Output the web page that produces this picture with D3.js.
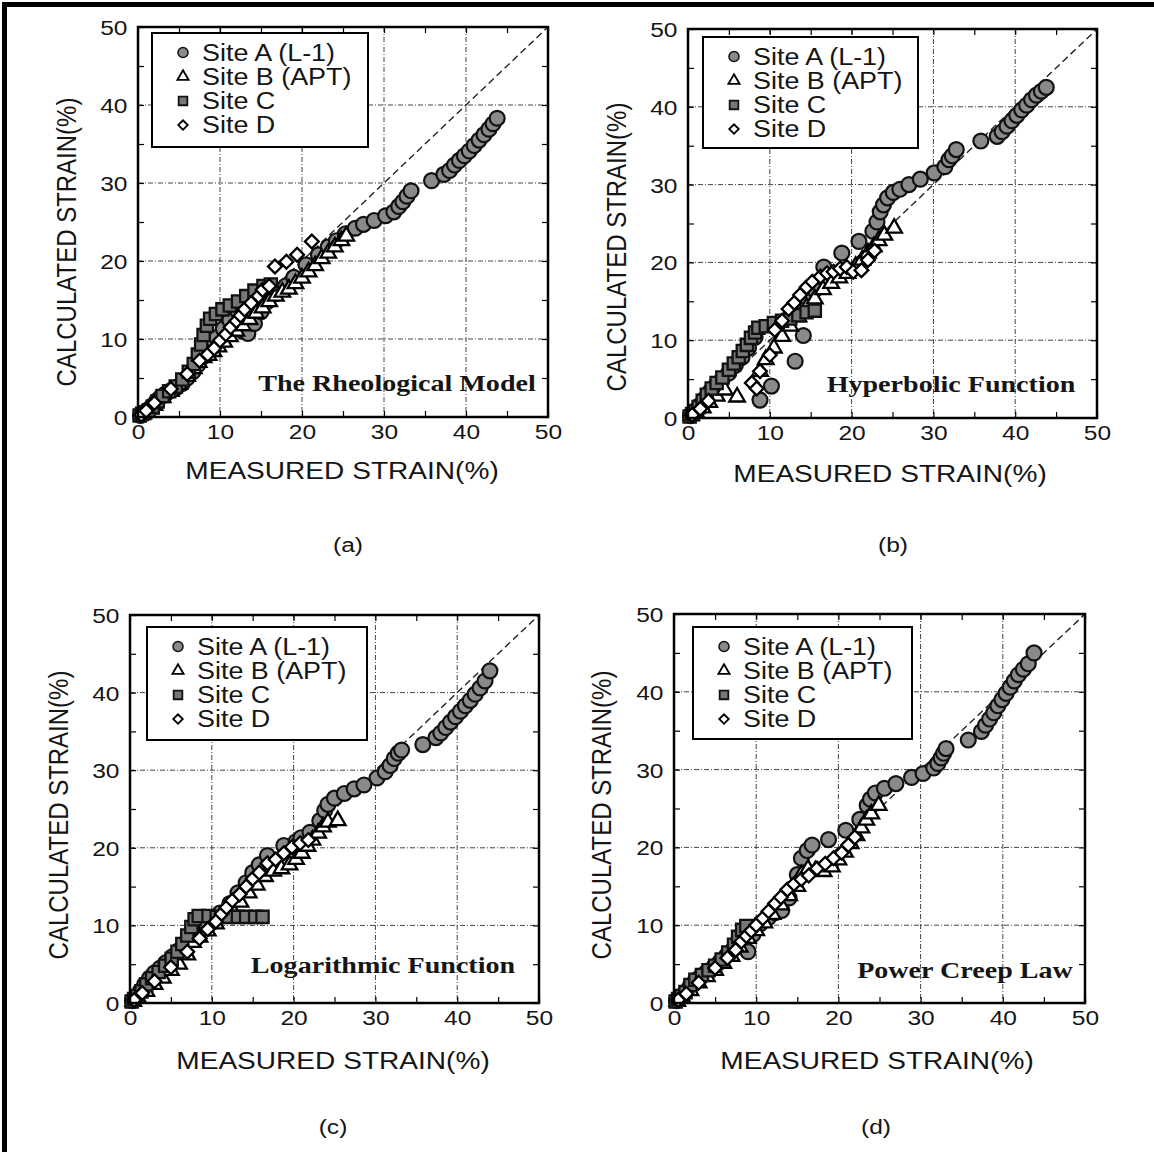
<!DOCTYPE html>
<html><head><meta charset="utf-8">
<script src="https://cdn.jsdelivr.net/npm/d3@7"></script>
<style>body{margin:0;background:#fff} svg{display:block}</style>
</head><body>
<svg id="chart" width="1154" height="1152"></svg>
<script>
// ---------- data ----------
const seriesNames = ["Site A (L-1)", "Site B (APT)", "Site C", "Site D"];
const panelLetters = ["(a)", "(b)", "(c)", "(d)"];
const modelNames = ["The Rheological Model", "Hyperbolic Function", "Logarithmic Function", "Power Creep Law"];
const tickValues = [0, 10, 20, 30, 40, 50];
const gridValues = [10, 20, 30, 40];
const xTitleText = "MEASURED STRAIN(%)";
const yTitleText = "CALCULATED STRAIN(%)";

// (a) The Rheological Model  [measured, calculated]
const siteA_a = [[0.3,0.2],[0.8,0.6],[1.3,1.0],[1.8,1.5],[2.3,2.1],[2.8,2.6],[3.4,3.0],[4.0,3.4],[4.7,3.8],[5.4,4.3],[6.0,5.0],[6.7,5.8],[7.3,6.7],[8.0,7.8],[8.8,9.0],[9.6,10.2],[10.4,11.3],[11.2,12.4],[12.2,13.5],[12.8,11.0],[13.4,10.7],[14.2,12.0],[15.0,13.5],[15.8,14.8],[16.8,15.8],[18.0,16.8],[19.0,17.9],[20.5,19.5],[22.0,20.8],[23.2,21.8],[24.2,22.6],[25.3,23.5],[26.5,24.2],[27.5,24.7],[28.8,25.2],[30.2,25.8],[31.2,26.3],[31.8,27.0],[32.3,27.6],[32.8,28.3],[33.3,29.0],[35.8,30.3],[37.3,31.1],[38.0,31.6],[38.6,32.3],[39.2,32.9],[39.8,33.5],[40.4,34.1],[41.0,34.8],[41.6,35.5],[42.2,36.2],[42.8,36.9],[43.3,37.6],[43.8,38.3]];
const siteB_a = [[0.5,0.3],[1.0,0.6],[1.5,1.0],[2.0,1.5],[3.0,2.5],[4.0,3.3],[5.0,4.2],[6.0,5.2],[6.8,6.2],[7.4,7.0],[8.0,7.6],[8.6,7.9],[9.2,8.4],[9.8,9.0],[10.5,9.6],[11.2,10.3],[12.0,11.0],[12.8,11.7],[13.6,12.5],[14.4,13.3],[15.2,14.0],[16.0,14.8],[16.8,15.5],[17.6,16.0],[18.4,16.4],[19.2,17.1],[20.0,17.8],[20.8,18.6],[21.6,19.4],[22.4,20.3],[23.2,21.0],[24.0,21.8],[24.8,22.6],[25.4,23.2]];
const siteC_a = [[0.2,0.2],[0.5,0.4],[0.9,0.6],[1.3,0.8],[1.8,1.3],[2.4,2.0],[3.0,2.7],[3.8,3.3],[4.6,3.9],[5.4,4.8],[6.2,5.8],[6.8,6.8],[7.3,8.0],[7.7,9.3],[8.0,10.5],[8.4,11.7],[8.8,12.6],[9.5,13.2],[10.3,13.8],[11.2,14.3],[12.2,14.8],[13.2,15.5],[14.2,16.2],[15.3,16.8],[16.2,17.0]];
const siteD_a = [[0.4,0.3],[1.0,0.8],[2.0,1.8],[4.0,3.6],[6.0,5.5],[7.5,7.2],[8.5,8.0],[9.3,8.8],[10.0,9.8],[10.7,10.6],[11.3,11.5],[12.0,12.3],[12.5,13.0],[13.0,13.8],[13.8,14.6],[14.7,15.5],[15.2,16.3],[16.0,16.8],[16.7,19.3],[18.1,19.9],[19.4,20.8],[21.2,22.5]];

// (b) Hyperbolic Function
const siteA_b = [[0.3,0.3],[0.8,0.8],[1.4,1.6],[2.0,2.4],[2.7,3.4],[3.4,4.2],[4.2,5.0],[5.0,5.8],[5.8,6.8],[6.6,7.8],[7.4,9.0],[8.2,10.4],[8.8,2.3],[10.2,4.1],[13.1,7.3],[14.1,10.6],[11.0,12.0],[12.5,13.0],[14.5,15.0],[15.5,16.5],[16.6,19.4],[18.8,21.2],[20.9,22.7],[22.6,24.0],[23.1,25.2],[23.5,26.5],[23.9,27.4],[24.4,28.3],[25.1,29.0],[25.9,29.4],[27.0,30.0],[28.4,30.7],[30.1,31.5],[31.4,32.3],[31.9,33.2],[32.3,33.7],[32.8,34.5],[35.8,35.6],[37.8,36.2],[38.4,36.8],[39.0,37.5],[39.6,38.2],[40.2,38.9],[40.8,39.6],[41.4,40.2],[42.0,40.9],[42.6,41.5],[43.2,42.0],[43.8,42.5]];
const siteB_b = [[0.4,0.3],[1.0,0.7],[1.8,1.3],[2.6,2.0],[3.5,2.8],[4.5,3.6],[6.0,2.7],[8.8,6.0],[9.5,7.5],[10.5,9.0],[11.5,10.5],[12.5,11.8],[13.5,13.0],[14.5,14.2],[15.5,15.3],[16.5,16.5],[17.5,17.3],[18.5,18.0],[19.5,18.6],[20.5,19.5],[21.3,20.3],[22.0,21.2],[22.7,22.0],[23.3,22.8],[24.0,23.5],[25.2,24.4]];
const siteC_b = [[0.2,0.2],[0.5,0.5],[0.9,0.9],[1.3,1.4],[1.8,2.2],[2.3,3.0],[2.9,3.8],[3.5,4.5],[4.2,5.2],[5.0,6.2],[5.6,7.0],[6.2,7.8],[6.7,8.6],[7.2,9.4],[7.7,10.3],[8.2,11.0],[8.6,11.6],[9.5,11.8],[10.5,12.2],[11.5,12.5],[12.5,12.8],[13.5,13.2],[14.5,13.6],[15.5,13.8]];
const siteD_b = [[0.5,0.4],[1.5,1.2],[2.5,2.2],[7.8,4.5],[8.4,3.8],[8.8,6.0],[10.0,8.1],[10.6,11.3],[11.5,12.5],[12.3,14.0],[13.0,14.8],[13.7,15.8],[14.5,16.8],[15.2,17.5],[16.2,18.2],[17.0,18.6],[17.8,18.8],[18.6,19.2],[19.4,19.4],[20.2,18.8],[21.2,19.0],[22.0,20.3],[22.8,21.5]];

// (c) Logarithmic Function
const siteA_c = [[0.3,0.3],[0.8,0.9],[1.3,1.6],[1.8,2.4],[2.4,3.2],[3.0,3.9],[3.7,4.5],[4.4,5.2],[5.2,6.0],[6.0,6.8],[7.0,8.0],[8.1,9.5],[9.0,10.5],[10.0,11.0],[11.0,11.6],[12.2,12.8],[13.2,14.2],[14.2,15.5],[15.0,16.8],[15.8,17.8],[16.8,19.0],[18.8,20.3],[20.3,20.8],[20.9,21.3],[22.0,22.0],[23.2,23.5],[23.8,24.8],[24.2,25.6],[25.0,26.4],[26.2,27.0],[27.4,27.6],[28.6,28.1],[30.2,29.0],[31.2,29.8],[31.8,30.6],[32.3,31.5],[32.8,32.2],[33.2,32.6],[35.8,33.3],[37.4,34.2],[38.0,34.8],[38.6,35.5],[39.2,36.2],[39.8,36.9],[40.4,37.6],[41.0,38.3],[41.6,39.0],[42.2,39.8],[42.8,40.6],[43.4,41.5],[44.0,42.8]];
const siteB_c = [[0.4,0.2],[1.0,0.6],[2.0,1.5],[3.0,2.4],[4.0,3.2],[5.0,4.2],[6.0,5.0],[7.0,6.2],[7.7,7.8],[8.5,8.5],[9.5,9.3],[10.5,10.2],[11.5,11.0],[12.5,12.0],[13.5,13.0],[14.5,14.2],[15.5,15.2],[16.5,16.3],[17.5,17.0],[18.5,17.3],[19.5,17.8],[20.3,18.5],[21.0,19.3],[21.7,20.2],[22.3,21.0],[23.0,21.9],[23.6,22.7],[24.2,23.3],[25.4,23.5]];
const siteC_c = [[0.2,0.2],[0.5,0.5],[0.9,0.9],[1.4,1.5],[2.0,2.4],[2.7,3.2],[3.5,4.0],[4.3,4.8],[5.1,5.7],[5.8,6.6],[6.4,7.6],[7.0,8.7],[7.5,9.8],[7.9,10.8],[8.4,11.2],[9.6,11.2],[10.6,11.1],[12.0,11.1],[13.2,11.1],[14.2,11.1],[15.3,11.1],[16.2,11.1]];
const siteD_c = [[0.5,0.4],[1.5,1.3],[3.0,2.8],[5.0,4.6],[7.0,6.6],[8.5,8.3],[9.5,9.5],[10.5,10.5],[11.2,11.5],[11.8,12.3],[12.5,13.2],[13.4,14.0],[14.2,15.0],[15.0,16.0],[15.8,16.8],[16.8,18.0],[17.8,18.5],[18.8,19.3],[19.8,20.1],[20.8,20.6],[21.8,21.0]];

// (d) Power Creep Law
const siteA_d = [[0.3,0.3],[0.8,0.8],[1.4,1.4],[2.0,2.2],[2.6,2.9],[3.3,3.5],[4.0,4.0],[4.8,4.6],[5.6,5.3],[6.4,6.1],[7.2,6.9],[8.0,7.6],[9.0,6.6],[9.6,8.8],[10.5,10.2],[11.5,11.0],[12.3,11.6],[13.1,11.9],[14.0,13.5],[15.0,16.5],[15.5,18.6],[16.2,19.6],[16.8,20.3],[18.8,21.0],[20.9,22.2],[22.6,23.6],[23.5,25.4],[23.9,26.2],[24.5,27.0],[25.6,27.6],[27.0,28.2],[28.9,29.0],[30.3,29.5],[31.6,30.2],[32.1,30.8],[32.5,31.5],[32.8,32.1],[33.1,32.7],[35.8,33.8],[37.4,34.9],[37.9,35.7],[38.4,36.5],[38.9,37.3],[39.4,38.2],[39.9,39.0],[40.4,39.8],[40.9,40.6],[41.4,41.4],[41.9,42.2],[42.5,42.9],[43.1,43.6],[43.8,45.0]];
const siteB_d = [[0.4,0.2],[1.0,0.7],[2.0,1.6],[3.0,2.6],[4.0,3.4],[5.0,4.2],[6.0,5.1],[7.0,6.0],[8.0,7.2],[9.0,8.3],[10.0,9.3],[11.0,10.3],[12.0,11.4],[13.0,12.6],[14.0,13.8],[15.0,15.0],[15.5,16.5],[16.3,17.2],[17.2,17.0],[18.2,16.9],[19.2,17.5],[20.0,18.4],[20.8,19.4],[21.5,20.5],[22.2,21.5],[22.8,22.5],[23.4,23.5],[24.0,24.3],[24.9,25.4]];
const siteC_d = [[0.2,0.2],[0.5,0.5],[0.9,0.9],[1.4,1.4],[2.0,2.3],[2.6,3.0],[3.4,3.6],[4.2,4.2],[5.0,4.8],[5.8,5.6],[6.6,6.5],[7.3,7.5],[7.8,8.5],[8.3,9.4],[8.8,9.9]];
const siteD_d = [[0.5,0.4],[1.5,1.2],[3.0,2.6],[5.0,4.5],[6.5,5.8],[7.5,6.8],[8.2,7.9],[8.8,8.6],[9.4,9.3],[10.0,10.0],[10.8,10.9],[11.5,11.8],[12.3,12.8],[13.0,13.6],[13.8,14.6],[14.6,15.3],[15.5,15.9],[16.4,16.4],[17.4,17.3],[18.4,17.9],[19.4,18.6],[20.4,19.3],[21.2,20.3],[22.0,21.3]];

// ---------- layout ----------
const panels = [
  {frame:[138,27,548,417], legend:[152,33,216,114], model:[397,391], xt:[342,479], yt:[66,242], sub:[348,545], data:[siteA_a,siteB_a,siteC_a,siteD_a]},
  {frame:[688,29,1097,418], legend:[703,37,215,111], model:[951,392], xt:[890,482], yt:[616,247], sub:[893,545], data:[siteA_b,siteB_b,siteC_b,siteD_b]},
  {frame:[130,615,539,1003], legend:[147,627,220,113], model:[383,973], xt:[333,1069], yt:[58,815], sub:[333,1127], data:[siteA_c,siteB_c,siteC_c,siteD_c]},
  {frame:[674,614,1085,1003], legend:[693,627,219,112], model:[965,978], xt:[877,1069], yt:[601,815], sub:[876,1127], data:[siteA_d,siteB_d,siteC_d,siteD_d]}
];

const SX = 1.17;
const SANS = "'Liberation Sans', Arial, Helvetica, sans-serif";
const SERIF = "'Liberation Serif', 'Times New Roman', serif";
const svg = d3.select("#chart");
svg.append("rect").attr("width",1154).attr("height",1152).attr("fill","#fff");
svg.append("rect").attr("x",2).attr("y",2).attr("width",1152).attr("height",5).attr("fill","#000");
svg.append("rect").attr("x",2).attr("y",2).attr("width",5).attr("height",1150).attr("fill","#000");

function txt(parent, x, y, s, o) {
  const g = parent.append("g").attr("transform", `translate(${x},${y}) scale(${SX},1)` + (o.rot ? " rotate(-90)" : ""));
  g.append("text").attr("text-anchor", o.anchor || "middle")
    .attr("font-family", o.family || SANS).attr("font-size", o.size)
    .attr("font-weight", o.weight || "normal").attr("fill", "#151515")
    .attr("dy", o.dy || 0).text(s);
}

const styles = [
  {type: d3.symbolCircle, size: 175, lsize: 80, fill: "#8a8a8a", stroke: "#111", sw: 2.2, rot: 0},
  {type: d3.symbolTriangle, size: 105, lsize: 55, fill: "#fff", stroke: "#000", sw: 2.3, rot: 0},
  {type: d3.symbolSquare, size: 150, lsize: 75, fill: "#777", stroke: "#111", sw: 2.3, rot: 0},
  {type: d3.symbolSquare, size: 95, lsize: 45, fill: "#fff", stroke: "#000", sw: 2.3, rot: 45}
];

panels.forEach((p, i) => {
  const [L, T, R, B] = p.frame;
  const x = d3.scaleLinear().domain([0, 50]).range([L, R]);
  const y = d3.scaleLinear().domain([0, 50]).range([B, T]);
  const g = svg.append("g");

  // grid
  g.selectAll(".gx").data(gridValues).join("line")
    .attr("x1", d => x(d)).attr("x2", d => x(d)).attr("y1", T).attr("y2", B)
    .attr("stroke", "#444").attr("stroke-width", 1).attr("stroke-dasharray", "5,2,1,2");
  g.selectAll(".gy").data(gridValues).join("line")
    .attr("y1", d => y(d)).attr("y2", d => y(d)).attr("x1", L).attr("x2", R)
    .attr("stroke", "#444").attr("stroke-width", 1).attr("stroke-dasharray", "5,2,1,2");

  // inward minor ticks on all sides
  const minor = d3.range(0, 51, 5);
  const mk = (axis, tr) => {
    const a = g.append("g").attr("transform", tr).call(axis.tickValues(minor).tickSize(-6).tickFormat(""));
    a.select(".domain").remove();
    a.selectAll("line").attr("stroke", "#000").attr("stroke-width", 1.2);
  };
  mk(d3.axisBottom(x), `translate(0,${B})`);
  mk(d3.axisTop(x), `translate(0,${T})`);
  mk(d3.axisLeft(y), `translate(${L},0)`);
  mk(d3.axisRight(y), `translate(${R},0)`);

  // 1:1 line
  g.append("line").attr("x1", x(0)).attr("y1", y(0)).attr("x2", x(50)).attr("y2", y(50))
    .attr("stroke", "#222").attr("stroke-width", 1.4).attr("stroke-dasharray", "7,4");

  // markers
  p.data.forEach((series, si) => {
    const st = styles[si];
    const sym = d3.symbol().type(st.type).size(st.size);
    g.append("g").selectAll("path").data(series).join("path")
      .attr("d", sym)
      .attr("transform", d => `translate(${x(d[0])},${y(d[1])}) rotate(${st.rot})`)
      .attr("fill", st.fill).attr("stroke", st.stroke).attr("stroke-width", st.sw);
  });

  // frame
  g.append("rect").attr("x", L).attr("y", T).attr("width", R - L).attr("height", B - T)
    .attr("fill", "none").attr("stroke", "#000").attr("stroke-width", 2.5);

  // tick labels via axes
  const ax = g.append("g").attr("transform", `translate(0,${B})`)
    .call(d3.axisBottom(x).tickValues(tickValues).tickSize(0).tickPadding(7));
  ax.select(".domain").remove();
  ax.selectAll("text").attr("font-family", SANS).attr("font-size", 21).attr("fill", "#151515")
    .attr("transform", `scale(${SX},1)`);
  const ay = g.append("g").attr("transform", `translate(${L},0)`)
    .call(d3.axisLeft(y).tickValues(tickValues).tickSize(0).tickPadding(9));
  ay.select(".domain").remove();
  ay.selectAll("text").attr("font-family", SANS).attr("font-size", 21).attr("fill", "#151515")
    .attr("dy", "0.36em").attr("transform", `scale(${SX},1)`);

  // legend
  const [lx, ly, lw, lh] = p.legend;
  g.append("rect").attr("x", lx).attr("y", ly).attr("width", lw).attr("height", lh)
    .attr("fill", "#fff").attr("stroke", "#000").attr("stroke-width", 2);
  seriesNames.forEach((name, si) => {
    const st = styles[si];
    const ry = ly + 19.5 + si * 24.2;
    g.append("path").attr("d", d3.symbol().type(st.type).size(st.lsize))
      .attr("transform", `translate(${lx + 31},${ry}) rotate(${st.rot})`)
      .attr("fill", st.fill).attr("stroke", st.stroke).attr("stroke-width", si === 0 ? 1.5 : 1.8);
    txt(g, lx + 50, ry + 8, name, {size: 23, anchor: "start"});
  });

  // model label
  txt(g, p.model[0], p.model[1], modelNames[i], {size: 24, weight: "bold", family: SERIF});
  // axis titles
  txt(g, p.xt[0], p.xt[1], xTitleText, {size: 24});
  txt(g, p.yt[0], p.yt[1], yTitleText, {size: 24, rot: true, dy: "0.35em"});
  // panel letter
  txt(g, p.sub[0], p.sub[1], panelLetters[i], {size: 21, dy: "0.35em"});
});
</script>
</body></html>
